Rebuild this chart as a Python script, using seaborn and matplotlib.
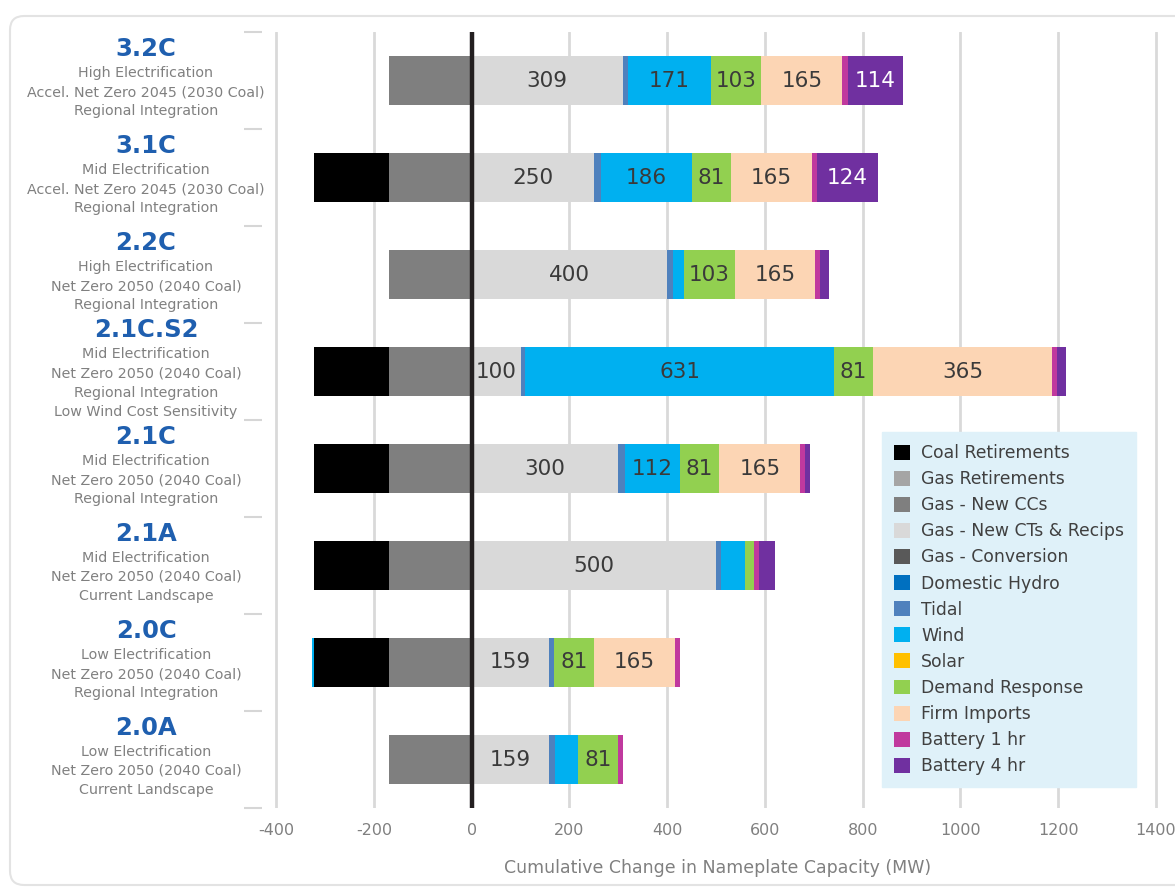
import matplotlib
matplotlib.use("Agg")
import matplotlib.pyplot as plt
import seaborn as sns
import numpy as np
import pandas as pd
from matplotlib.patches import Patch, FancyBboxPatch

# ---------------- data ----------------
scenarios = ["3.2C", "3.1C", "2.2C", "2.1C.S2", "2.1C", "2.1A", "2.0C", "2.0A"]
descriptions = [
    ["High Electrification", "Accel. Net Zero 2045 (2030 Coal)", "Regional Integration"],
    ["Mid Electrification", "Accel. Net Zero 2045 (2030 Coal)", "Regional Integration"],
    ["High Electrification", "Net Zero 2050 (2040 Coal)", "Regional Integration"],
    ["Mid Electrification", "Net Zero 2050 (2040 Coal)", "Regional Integration", "Low Wind Cost Sensitivity"],
    ["Mid Electrification", "Net Zero 2050 (2040 Coal)", "Regional Integration"],
    ["Mid Electrification", "Net Zero 2050 (2040 Coal)", "Current Landscape"],
    ["Low Electrification", "Net Zero 2050 (2040 Coal)", "Regional Integration"],
    ["Low Electrification", "Net Zero 2050 (2040 Coal)", "Current Landscape"],
]

coal_retirements = [0, -152, 0, -152, -152, -152, -152, 0]
gas_retirements = [0, 0, 0, 0, 0, 0, 0, 0]
gas_new_ccs = [-170, -170, -170, -170, -170, -170, -170, -170]
gas_new_cts = [309, 250, 400, 100, 300, 500, 159, 159]
gas_conversion = [0, 0, 0, 0, 0, 0, 0, 0]
domestic_hydro = [0, 0, 0, 0, 0, 0, 0, 0]
tidal = [10, 14, 11, 10, 14, 10, 10, 11]
wind = [171, 186, 24, 631, 112, 50, -4, 48]
solar = [0, 0, 0, 0, 0, 0, 0, 0]
demand_response = [103, 81, 103, 81, 81, 18, 81, 81]
firm_imports = [165, 165, 165, 365, 165, 0, 165, 0]
battery_1hr = [11, 11, 10, 10, 10, 10, 11, 11]
battery_4hr = [114, 124, 18, 20, 10, 32, 0, 0]

series_names = ["Coal Retirements", "Gas Retirements", "Gas - New CCs",
                "Gas - New CTs & Recips", "Gas - Conversion", "Domestic Hydro",
                "Tidal", "Wind", "Solar", "Demand Response", "Firm Imports",
                "Battery 1 hr", "Battery 4 hr"]
series_values = [coal_retirements, gas_retirements, gas_new_ccs, gas_new_cts,
                 gas_conversion, domestic_hydro, tidal, wind, solar,
                 demand_response, firm_imports, battery_1hr, battery_4hr]
colors = ["#000000", "#a5a5a5", "#7f7f7f", "#d9d9d9", "#595959", "#0070c0",
          "#4f81bd", "#00b0f0", "#ffc000", "#92d050", "#fcd5b4", "#c0399e",
          "#7030a0"]

# stacking order away from zero
pos_order = ["Gas - New CTs & Recips", "Gas - Conversion", "Domestic Hydro", "Tidal",
             "Wind", "Solar", "Demand Response", "Firm Imports", "Battery 1 hr", "Battery 4 hr",
             "Gas - New CCs", "Gas Retirements", "Coal Retirements"]
neg_order = ["Gas - New CCs", "Gas Retirements", "Coal Retirements", "Gas - Conversion",
             "Domestic Hydro", "Tidal", "Wind", "Solar", "Demand Response",
             "Firm Imports", "Battery 1 hr", "Battery 4 hr", "Gas - New CTs & Recips"]

vals = {n: np.array(v, dtype=float) for n, v in zip(series_names, series_values)}
col = dict(zip(series_names, colors))

# ---------------- figure ----------------
sns.set_theme(style="white")
plt.rcParams["font.family"] = ["DejaVu Sans"]
W, H = 1175, 890
fig = plt.figure(figsize=(W / 100, H / 100), dpi=100)
fig.patch.set_facecolor("white")

# card outline
card = FancyBboxPatch((10, 5), 1200, H - 5 - 16, boxstyle="round,pad=0,rounding_size=14",
                      facecolor="none", edgecolor="#e3e3e3", linewidth=1.5, zorder=-1)
card.set_transform(matplotlib.transforms.IdentityTransform())
fig.patches.append(card)

ax_l, ax_r, ax_t, ax_b = 262, 1174, 32, 808
ax = fig.add_axes([ax_l / W, (H - ax_b) / H, (ax_r - ax_l) / W, (ax_b - ax_t) / H])
ax.set_facecolor("none")

xmin = -429
xmax = 1437

pos_parts = {n: np.clip(vals[n], 0, None) for n in pos_order}
neg_parts = {n: np.clip(vals[n], None, 0) for n in neg_order}
pos_cum = np.cumsum([pos_parts[n] for n in pos_order], axis=0)
neg_cum = np.cumsum([neg_parts[n] for n in neg_order], axis=0)

for i in range(len(pos_order) - 1, -1, -1):
    n = pos_order[i]
    d = pd.DataFrame({"scenario": scenarios, "value": pos_cum[i]})
    sns.barplot(data=d, x="value", y="scenario", order=scenarios, orient="h",
                color=col[n], saturation=1, width=0.5, linewidth=0,
                errorbar=None, ax=ax, zorder=2)
for i in range(len(neg_order) - 1, -1, -1):
    n = neg_order[i]
    d = pd.DataFrame({"scenario": scenarios, "value": neg_cum[i]})
    sns.barplot(data=d, x="value", y="scenario", order=scenarios, orient="h",
                color=col[n], saturation=1, width=0.5, linewidth=0,
                errorbar=None, ax=ax, zorder=2)

# value labels
for i, n in enumerate(pos_order):
    start = pos_cum[i] - pos_parts[n]
    for r in range(len(scenarios)):
        v = pos_parts[n][r]
        if v >= 60:
            ax.text(start[r] + v / 2, r, f"{int(round(v))}", ha="center", va="center",
                    fontsize=15.5, color="white" if n == "Battery 4 hr" else "#3a3a3a",
                    zorder=5)

ax.set_xlim(xmin, xmax)
ax.set_ylim(len(scenarios) - 0.5, -0.5)
ax.set_xticks(np.arange(-400, 1401, 200))
ax.set_xticklabels([str(t) for t in np.arange(-400, 1401, 200)])
for t in np.arange(-400, 1401, 200):
    if t != 0:
        ax.axvline(t, color="#d9d9d9", lw=2, zorder=1)
ax.axvline(0, color="#231f20", lw=3.2, zorder=4)
for s in ax.spines.values():
    s.set_visible(False)
ax.set_yticks(np.arange(len(scenarios)))
ax.set_yticklabels([])
ax.set_yticks(np.arange(-0.5, len(scenarios)), minor=True)
ax.tick_params(axis="y", which="major", length=0)
ax.tick_params(axis="y", which="minor", length=13, width=1.5, color="#d6d6d6",
               direction="out", left=True)
ax.tick_params(axis="x", length=0, pad=11, labelsize=11.5, labelcolor="#808080")
ax.set_ylabel("")
ax.set_xlabel("Cumulative Change in Nameplate Capacity (MW)", fontsize=12.5,
              color="#808080", labelpad=15)

# scenario labels
for r, (name, lines) in enumerate(zip(scenarios, descriptions)):
    n = len(lines)
    offs = [(k - (n - 1) / 2) * 19.3 + 11.5 for k in range(n)]
    for k, line in enumerate(lines):
        ax.annotate(line, xy=(146, r), xycoords=("figure pixels", "data"),
                    xytext=(0, -offs[k]), textcoords="offset pixels",
                    ha="center", va="center", fontsize=10.3, color="#808080",
                    annotation_clip=False)
    ax.annotate(name, xy=(146, r), xycoords=("figure pixels", "data"),
                xytext=(0, -(offs[0] - 24)), textcoords="offset pixels",
                ha="center", va="center", fontsize=17.5, fontweight="bold",
                color="#1f5faf", annotation_clip=False)

# legend
handles = [Patch(facecolor=c, edgecolor="none", label=n) for n, c in zip(series_names, colors)]
leg = ax.legend(handles=handles, loc="upper left",
                bbox_to_anchor=((882 - ax_l) / (ax_r - ax_l), (ax_b - 432) / (ax_b - ax_t)),
                borderaxespad=0, frameon=True, fancybox=False, facecolor="#dff1f9",
                edgecolor="#dff1f9", fontsize=12.4, handlelength=0.95, handleheight=0.95,
                handletextpad=0.62, labelspacing=0.47, borderpad=0.7, framealpha=1)
for t in leg.get_texts():
    t.set_color("#404040")
leg.set_zorder(6)

fig.savefig("out.png", dpi=100, facecolor="white")
